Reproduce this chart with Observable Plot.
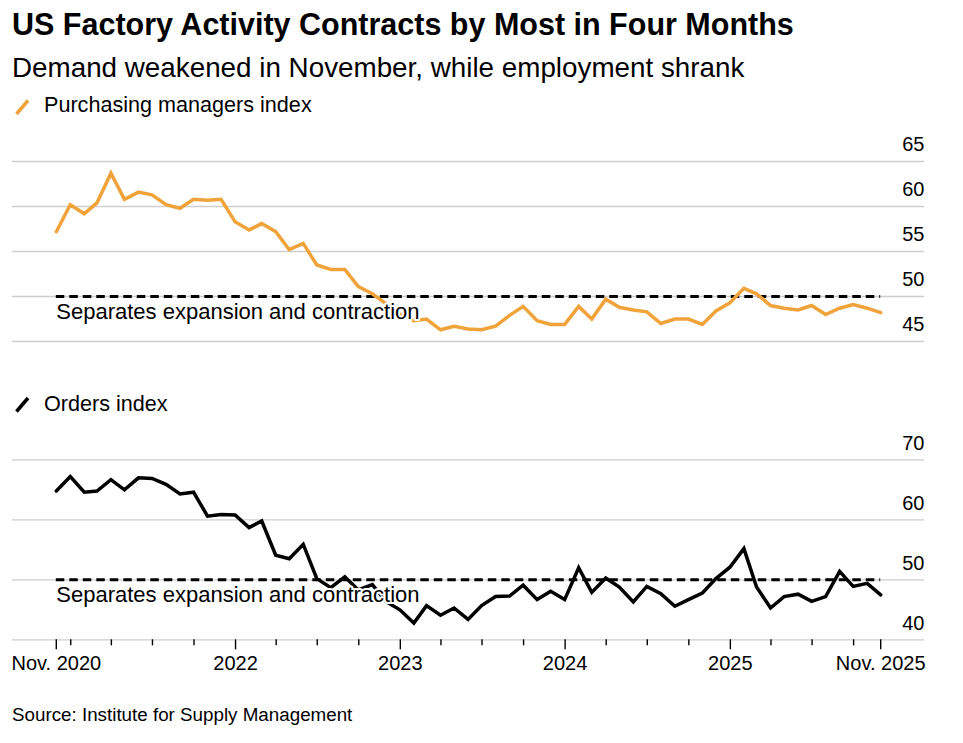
<!DOCTYPE html>
<html><head><meta charset="utf-8">
<script src="https://cdn.jsdelivr.net/npm/d3@7"></script>
<script src="https://cdn.jsdelivr.net/npm/@observablehq/plot@0.6"></script>
<style>
body{margin:0;background:#fff;}
#root{position:relative;width:963px;height:743px;font-family:"Liberation Sans",Arial,sans-serif;color:#000;overflow:hidden;background:#fff}
.t{position:absolute;left:12px;line-height:1;white-space:nowrap}
.abs{position:absolute;left:0}
</style></head><body><div id="root">
<div class="t" style="top:9.2px;font-size:30.5px;font-weight:bold">US Factory Activity Contracts by Most in Four Months</div>
<div class="t" style="top:53.5px;font-size:27.8px">Demand weakened in November, while employment shrank</div>
<svg class="abs" style="top:0;left:0" width="40" height="420"><line x1="16.5" y1="114" x2="28" y2="100.5" stroke="#f1a33b" stroke-width="3.5"/><line x1="16.5" y1="411.5" x2="28" y2="398" stroke="#000" stroke-width="3.5"/></svg>
<div class="t" style="top:94.2px;left:44px;font-size:21.6px">Purchasing managers index</div>
<div id="c1" class="abs" style="top:120px"></div>
<div class="t" style="top:393px;left:44px;font-size:21.6px">Orders index</div>
<div id="c2" class="abs" style="top:420px"></div>
<div class="t" style="top:706px;font-size:18.8px">Source: Institute for Supply Management</div>
</div>
<script>
// Monthly data, Nov. 2020 – Nov. 2025
const pmi = [57.2, 60.2, 59.2, 60.4, 63.7, 60.8, 61.6, 61.3, 60.2, 59.8, 60.8, 60.7, 60.8, 58.3, 57.4, 58.1, 57.2, 55.2, 55.9, 53.5,
             53.0, 53.0, 51.1, 50.3, 49.2, 48.0, 47.3, 47.5, 46.3, 46.7, 46.4, 46.3, 46.7, 47.9, 48.9, 47.3, 46.9, 46.9, 48.9, 47.5,
             49.7, 48.8, 48.5, 48.3, 47.0, 47.5, 47.5, 46.9, 48.4, 49.3, 50.9, 50.3, 49.0, 48.7, 48.5, 49.0, 48.0, 48.7, 49.1, 48.7, 48.2];
const orders = [64.8, 67.2, 64.6, 64.8, 66.7, 65.0, 67.0, 66.9, 65.9, 64.3, 64.6, 60.6, 60.9, 60.8, 58.7, 59.8, 54.1, 53.5, 55.9, 50.2,
                48.7, 50.5, 48.3, 49.2, 46.4, 45.0, 42.8, 45.7, 44.1, 45.3, 43.4, 45.7, 47.2, 47.3, 49.1, 46.7, 48.1, 46.7, 52.0, 47.9,
                50.3, 48.8, 46.3, 48.9, 47.7, 45.6, 46.7, 47.8, 50.2, 52.1, 55.2, 48.8, 45.3, 47.2, 47.6, 46.4, 47.2, 51.4, 48.9, 49.4, 47.5];
const pmiTicks = [45, 50, 55, 60, 65];
const ordersTicks = [40, 50, 60, 70];
const threshold = 50;
const annotation = "Separates expansion and contraction";
const xTickLabels = ["Nov. 2020", "2022", "2023", "2024", "2025", "Nov. 2025"];
const yearStarts = [2022, 2023, 2024, 2025];

const startMonth = new Date(Date.UTC(2020, 10, 1));
const dates = pmi.map((_, i) => d3.utcDay.offset(d3.utcMonth.offset(startMonth, i + 1), -1));
const first = dates[0], last = dates[dates.length - 1];
const xDomain = [d3.utcDay.offset(first, -97), d3.utcDay.offset(last, 97)];

const majorDates = [first, ...yearStarts.map(y => new Date(Date.UTC(y, 0, 1))), last];
const labelMap = new Map(majorDates.map((d, i) => [+d, xTickLabels[i]]));
const minorDates = d3.utcMonth.every(3).range(new Date(Date.UTC(2021, 0, 1)), last)
  .filter(d => !labelMap.has(+d));

const font = "'Liberation Sans', Arial, sans-serif";

function chart({values, color, domain, ticks, height, marginTop, marginBottom, xAxis}) {
  const data = values.map((v, i) => ({date: dates[i], value: v}));
  const marks = [
    Plot.ruleY(ticks, {stroke: "#cfcfcf", strokeWidth: 1.3}),
    Plot.ruleY([{y: threshold, x1: first, x2: last}], {y: "y", x1: "x1", x2: "x2", stroke: "#000", strokeWidth: 3, strokeDasharray: "8.5,5"}),
    Plot.line(data, {x: "date", y: "value", stroke: color, strokeWidth: 3.5, strokeLinejoin: "miter", strokeMiterlimit: 4}),
    Plot.text([{x: first, y: threshold}], {x: "x", y: "y", text: [annotation], textAnchor: "start", dy: 15.5, fontSize: 22, fill: "#000", stroke: "white", strokeWidth: 4}),
    Plot.axisY(ticks, {anchor: "right", tickSize: 0, tickPadding: 0, textAnchor: "end", dy: -16.5, fontSize: 20, tickFormat: d => String(d)})
  ];
  if (xAxis) {
    marks.push(Plot.axisX(majorDates, {anchor: "bottom", tickSize: 10, tickPadding: 6, strokeWidth: 1.4, fontSize: 20, tickFormat: d => labelMap.get(+d)}));
    marks.push(Plot.axisX(minorDates, {anchor: "bottom", tickSize: 6, strokeWidth: 1.4, tickFormat: () => ""}));
  }
  return Plot.plot({
    width: 963, height, marginLeft: 12, marginRight: 39, marginTop, marginBottom,
    x: {type: "utc", domain: xDomain, axis: xAxis ? undefined : null},
    y: {domain},
    style: {fontFamily: font, fontSize: "20px", color: "#000", background: "transparent", overflow: "visible"},
    marks
  });
}

document.getElementById("c1").append(chart({values: pmi, color: "#f1a33b", domain: [45, 65], ticks: pmiTicks, height: 231, marginTop: 41, marginBottom: 10, xAxis: false}));
document.getElementById("c2").append(chart({values: orders, color: "#000", domain: [40, 70], ticks: ordersTicks, height: 260, marginTop: 39.3, marginBottom: 40.7, xAxis: true}));
</script>
</body></html>
